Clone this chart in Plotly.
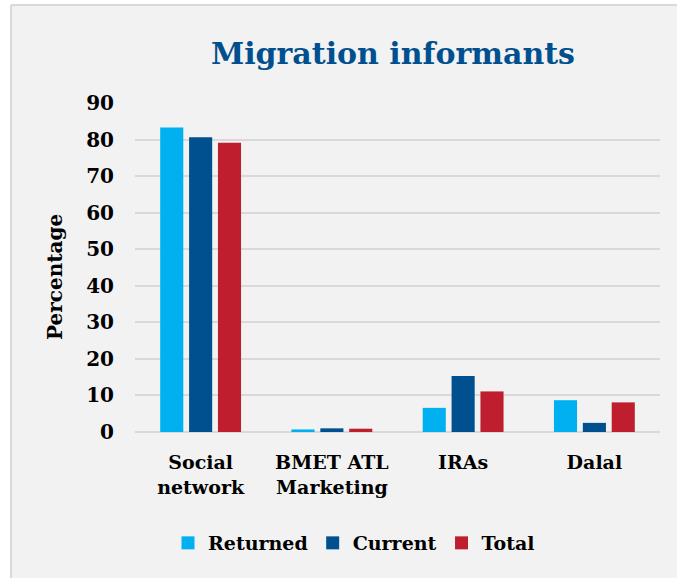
import plotly.graph_objects as go

categories = ["Social<br>network", "BMET ATL<br>Marketing", "IRAs", "Dalal"]
returned = [83.3, 0.7, 6.6, 8.7]
current = [80.6, 1.0, 15.3, 2.5]
total = [79.1, 0.9, 11.1, 8.1]
series_names = ["Returned", "Current", "Total"]
colors = ["#00B0F0", "#00508F", "#BE1E2D"]
y_ticks = [0, 10, 20, 30, 40, 50, 60, 70, 80, 90]

FONT = "DejaVu Serif"
W, H = 677, 578
ML, MR, MT, MB = 135, 17, 103, 146
PW, PH = W - ML - MR, H - MT - MB

fig = go.Figure()
for name, vals, col in zip(series_names, [returned, current, total], colors):
    fig.add_trace(go.Bar(name=name, x=categories, y=vals, marker_color=col,
                         marker_line_width=0, showlegend=False))
# legend entries with larger square symbols
for name, col in zip(series_names, colors):
    fig.add_trace(go.Scatter(name=name, x=[None], y=[None], mode="markers",
                             marker=dict(symbol="square", size=13, color=col), showlegend=True))

def px_x(p):
    return (p - ML) / PW

def px_y(p):
    return (H - MB - p) / PH

# white outer strips (top and left) and the light gray frame edges
fig.add_shape(type="rect", xref="paper", yref="paper",
              x0=px_x(0), x1=px_x(W), y0=px_y(5), y1=px_y(0),
              fillcolor="white", line_width=0, layer="below")
fig.add_shape(type="rect", xref="paper", yref="paper",
              x0=px_x(0), x1=px_x(11), y0=px_y(H), y1=px_y(0),
              fillcolor="white", line_width=0, layer="below")
fig.add_shape(type="line", xref="paper", yref="paper",
              x0=px_x(11), x1=px_x(W), y0=px_y(5), y1=px_y(5),
              line=dict(color="#D9D9D9", width=2), layer="below")
fig.add_shape(type="line", xref="paper", yref="paper",
              x0=px_x(11), x1=px_x(11), y0=px_y(H), y1=px_y(5),
              line=dict(color="#D9D9D9", width=2), layer="below")

fig.add_annotation(text="<b>Percentage</b>", textangle=-90, showarrow=False,
                   xref="paper", yref="paper", x=px_x(55), y=px_y(277),
                   xanchor="center", yanchor="middle",
                   font=dict(family=FONT, size=20, color="black"))

fig.update_layout(
    width=W, height=H,
    margin=dict(l=ML, r=MR, t=MT, b=MB),
    paper_bgcolor="#F2F2F2",
    plot_bgcolor="rgba(0,0,0,0)",
    barmode="group", bargap=0.34, bargroupgap=0.2,
    font=dict(family=FONT, size=19, color="black"),
    title=dict(text="<b>Migration informants</b>", font=dict(family=FONT, size=30, color="#00508F"),
               x=393 / W, xref="container", xanchor="center",
               y=1 - 53 / H, yref="container", yanchor="middle"),
    legend=dict(orientation="h", x=px_x(354), xanchor="center", y=px_y(543), yanchor="middle",
                font=dict(family=FONT, size=19, weight="bold"), bgcolor="rgba(0,0,0,0)",
                itemwidth=30, tracegroupgap=0),
    showlegend=True,
)
fig.update_xaxes(showgrid=False, showline=False, ticks="",
                 tickfont=dict(family=FONT, size=19, weight="bold"), ticklabelstandoff=17)
fig.update_yaxes(range=[0, 90], tickvals=y_ticks, showgrid=True, gridcolor="#D9D9D9", gridwidth=2,
                 zeroline=True, zerolinecolor="#D9D9D9", zerolinewidth=2, showline=False, ticks="",
                 tickfont=dict(family=FONT, size=20, weight="bold"), ticklabelstandoff=20)

fig.write_html(
    "out.html",
    config={"displayModeBar": False},
    post_script="document.body.style.margin='0';document.body.style.overflow='hidden';"
                "document.documentElement.style.overflow='hidden';",
)
